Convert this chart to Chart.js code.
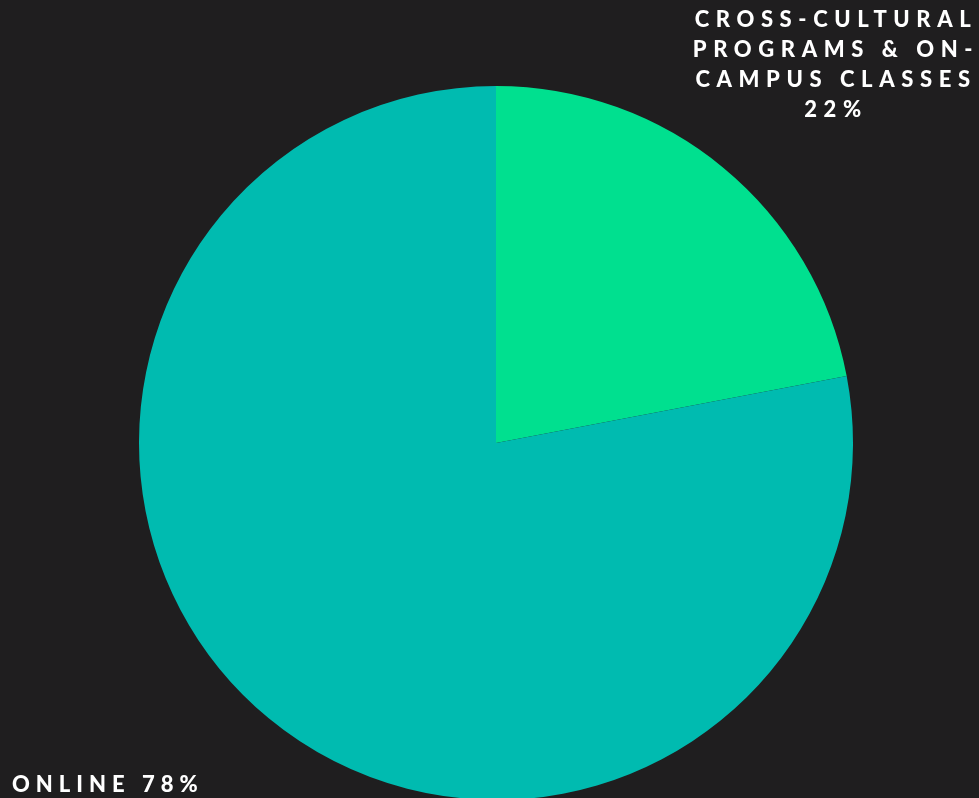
<!DOCTYPE html>
<html>
<head>
<meta charset="utf-8">
<script src="https://cdn.jsdelivr.net/npm/chart.js@4"></script>
<style>
  html, body { margin: 0; padding: 0; background: #1f1e1f; }
  #wrap { width: 979px; height: 798px; overflow: hidden; position: relative; }
  #box { width: 979px; height: 810px; }
</style>
</head>
<body>
<div id="wrap"><div id="box"><canvas id="pie"></canvas></div></div>
<script>
// data for the chart
const categories = ['Cross-cultural programs & on-campus classes', 'Online'];
const values = [22, 78];
const sliceColors = ['#00e08f', '#00bbb0'];
// label text as shown in the picture (wrapped lines)
const labelLines = [
    ['CROSS-CULTURAL', 'PROGRAMS & ON-', 'CAMPUS CLASSES'],
    ['ONLINE']
];

// plugin that writes the outside labels
const outsideLabels = {
    id: 'outsideLabels',
    afterDraw(chart) {
        const ctx = chart.ctx;
        const data = chart.data.datasets[0].data;
        ctx.save();
        ctx.fillStyle = '#ffffff';
        ctx.font = '900 22px Lato';
        ctx.letterSpacing = '6.6px';
        ctx.textBaseline = 'middle';

        // top right label, centered
        ctx.textAlign = 'center';
        const cx = 836;
        const lines = labelLines[0].concat([data[0] + '%']);
        lines.forEach(function (line, i) {
            ctx.fillText(line, cx, 20 + i * 30);
        });

        // bottom left label
        ctx.textAlign = 'left';
        ctx.letterSpacing = '6px';
        ctx.fillText(labelLines[1][0] + ' ' + data[1] + '%', 12, 785);
        ctx.restore();
    }
};

new Chart(document.getElementById('pie').getContext('2d'), {
    type: 'pie',
    data: {
        labels: categories,
        datasets: [{
            data: values,
            backgroundColor: sliceColors,
            borderWidth: 0
        }]
    },
    options: {
        responsive: true,
        maintainAspectRatio: false,
        animation: false,
        layout: {
            padding: { top: 86, bottom: 10, left: 139, right: 126 }
        },
        plugins: {
            legend: { display: false },
            tooltip: { enabled: false }
        }
    },
    plugins: [outsideLabels]
});
</script>
</body>
</html>
